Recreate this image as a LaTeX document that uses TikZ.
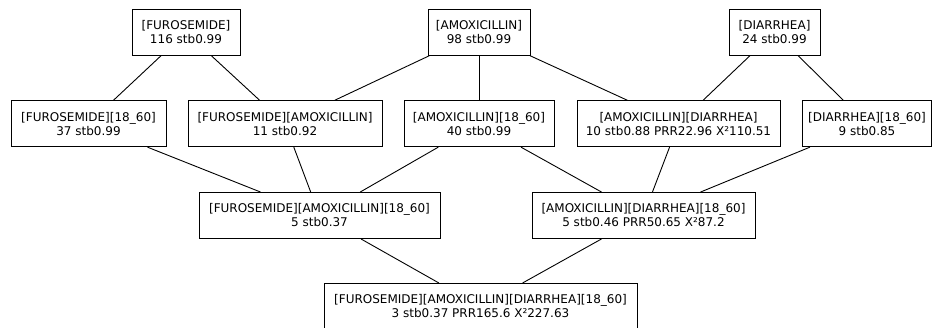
\documentclass[tikz,border=0pt]{standalone}
\usepackage{fontspec}
\setmainfont{DejaVu Sans}
\begin{document}
\begin{tikzpicture}[x=1pt,y=-1pt,
  lattice/.style={draw, line width=0.9pt, inner sep=0pt, align=center,
    minimum height=46pt, font=\fontsize{12}{14}\selectfont},
  link/.style={line width=0.9pt}]
\useasboundingbox (0,0) rectangle (932,327);
% top level: single items
\node[lattice, minimum width=108pt] (fur) at (186,32.3) {[FUROSEMIDE]\\116 stb0.99};
\node[lattice, minimum width=102pt] (amox) at (479,32.3) {[AMOXICILLIN]\\98 stb0.99};
\node[lattice, minimum width=91pt] (diar) at (774.5,32.3) {[DIARRHEA]\\24 stb0.99};
% second level: pairs
\node[lattice, minimum width=155pt] (fur18) at (88.5,123.7) {[FUROSEMIDE][18\_60]\\37 stb0.99};
\node[lattice, minimum width=194pt] (furamox) at (285,123.7) {[FUROSEMIDE][AMOXICILLIN]\\11 stb0.92};
\node[lattice, minimum width=150pt] (amox18) at (479,123.7) {[AMOXICILLIN][18\_60]\\40 stb0.99};
\node[lattice, minimum width=203pt] (amoxdiar) at (678.5,123.7) {[AMOXICILLIN][DIARRHEA]\\10 stb0.88 PRR22.96 X²110.51};
\node[lattice, minimum width=129pt] (diar18) at (867,123.7) {[DIARRHEA][18\_60]\\9 stb0.85};
% third level: triples
\node[lattice, minimum width=241pt] (furamox18) at (319.5,215.5) {[FUROSEMIDE][AMOXICILLIN][18\_60]\\5 stb0.37};
\node[lattice, minimum width=223pt] (amoxdiar18) at (643.5,215.5) {[AMOXICILLIN][DIARRHEA][18\_60]\\5 stb0.46 PRR50.65 X²87.2};
% bottom: full combination
\node[lattice, minimum width=313pt] (all) at (480.5,306.5) {[FUROSEMIDE][AMOXICILLIN][DIARRHEA][18\_60]\\3 stb0.37 PRR165.6 X²227.63};
% connectors
\draw[link] (fur) -- (fur18);
\draw[link] (fur) -- (furamox);
\draw[link] (amox) -- (furamox);
\draw[link] (amox) -- (amox18);
\draw[link] (amox) -- (amoxdiar);
\draw[link] (diar) -- (amoxdiar);
\draw[link] (diar) -- (diar18);
\draw[link] (fur18) -- (furamox18);
\draw[link] (furamox) -- (furamox18);
\draw[link] (amox18) -- (furamox18);
\draw[link] (amox18) -- (amoxdiar18);
\draw[link] (amoxdiar) -- (amoxdiar18);
\draw[link] (diar18) -- (amoxdiar18);
\draw[link] (furamox18) -- (all);
\draw[link] (amoxdiar18) -- (all);
\end{tikzpicture}
\end{document}
